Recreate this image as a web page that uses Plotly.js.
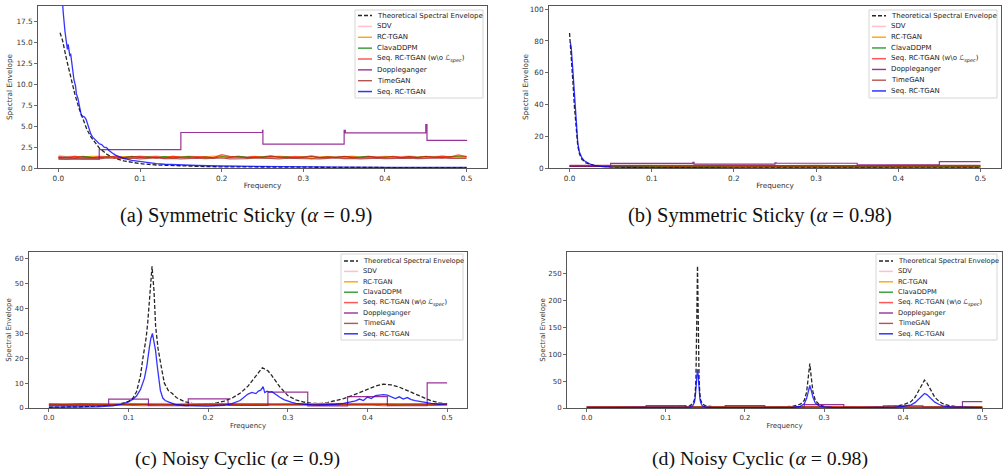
<!DOCTYPE html>
<html>
<head>
<meta charset="utf-8">
<script src="https://cdn.plot.ly/plotly-3.0.1.min.js"></script>
<style>
  html, body { margin: 0; padding: 0; background: #ffffff; }
  #chart { width: 1008px; height: 471px; }
</style>
</head>
<body>
<div id="chart"></div>
<script>
// ---------- series names (legend order) ----------
const seriesNames = [
  'Theoretical Spectral Envelope',
  'SDV',
  'RC-TGAN',
  'ClavaDDPM',
  'Seq. RC-TGAN (w\\o <i>ℒ</i><span style="font-size:5px;baseline-shift:-1.5px"><i>spec</i></span>)',
  'Doppleganger',
  'TimeGAN',
  'Seq. RC-TGAN'
];

// ---------- shared frequency grids and ticks ----------
const freqFine = [0, 0.01, 0.02, 0.03, 0.04, 0.05, 0.06, 0.07, 0.08, 0.09, 0.1, 0.11, 0.12, 0.13, 0.14, 0.15, 0.16, 0.17, 0.18, 0.19, 0.2,
  0.21, 0.22, 0.23, 0.24, 0.25, 0.26, 0.27, 0.28, 0.29, 0.3, 0.31, 0.32, 0.33, 0.34, 0.35, 0.36, 0.37, 0.38, 0.39, 0.4,
  0.41, 0.42, 0.43, 0.44, 0.45, 0.46, 0.47, 0.48, 0.49, 0.5];
const freqCoarse = [0, 0.02, 0.04, 0.06, 0.08, 0.1, 0.12, 0.14, 0.16, 0.18, 0.2, 0.22, 0.24, 0.26, 0.28, 0.3,
  0.32, 0.34, 0.36, 0.38, 0.4, 0.42, 0.44, 0.46, 0.48, 0.5];
const xTicks = [0, 0.1, 0.2, 0.3, 0.4, 0.5];
const yTicksA = [0, 2.5, 5, 7.5, 10, 12.5, 15, 17.5];
const yTicksB = [0, 20, 40, 60, 80, 100];
const yTicksC = [0, 10, 20, 30, 40, 50, 60];
const yTicksD = [0, 50, 100, 150, 200, 250];

// ---------- (a) Symmetric Sticky, alpha = 0.9 ----------
const freqTheoryA = [0.002, 0.005, 0.01, 0.015, 0.02, 0.025, 0.03, 0.035, 0.04, 0.045, 0.05, 0.06, 0.07, 0.08, 0.09,
  0.1, 0.12, 0.14, 0.16, 0.18, 0.2, 0.25, 0.3, 0.35, 0.4, 0.45, 0.5];
const theoryA = [16.2, 15.3, 13.0, 10.9, 8.9, 7.2, 5.8, 4.6, 3.7, 3.0, 2.4, 1.6, 1.15, 0.85, 0.65,
  0.52, 0.36, 0.27, 0.21, 0.17, 0.14, 0.1, 0.08, 0.065, 0.055, 0.05, 0.05];
const freqSeqA = [0.002, 0.004, 0.006, 0.008, 0.01, 0.011, 0.012, 0.014, 0.015, 0.017, 0.019, 0.021, 0.022, 0.024, 0.026,
  0.028, 0.03, 0.032, 0.034, 0.036, 0.038, 0.04, 0.042, 0.045, 0.048, 0.05, 0.053, 0.056, 0.059, 0.062, 0.066, 0.07,
  0.075, 0.08, 0.09, 0.1, 0.11, 0.12, 0.13, 0.15, 0.17, 0.2, 0.25, 0.3, 0.35, 0.4, 0.45, 0.5];
const seqRcTganA = [24, 20.5, 18.5, 16.4, 15.0, 14.2, 14.8, 13.4, 13.7, 12.0, 10.6, 9.8, 8.9, 8.3, 7.2,
  6.3, 6.2, 6.1, 5.8, 5.1, 4.5, 4.0, 3.7, 3.4, 3.1, 2.9, 2.8, 2.5, 2.45, 2.1, 1.8, 1.55,
  1.35, 1.15, 0.9, 0.75, 0.62, 0.52, 0.45, 0.36, 0.3, 0.24, 0.17, 0.12, 0.1, 0.08, 0.07, 0.06];
const freqStepA = [0, 0.05, 0.15, 0.25, 0.2505, 0.35, 0.3515, 0.45, 0.4515, 0.5];
const dopplegangerA = [1.05, 2.2, 4.25, 4.5, 2.85, 4.5, 4.2, 5.2, 3.3, 3.35];
const sdvA = [1.55, 1.35, 1.42, 1.3, 1.38, 1.45, 1.32, 1.4, 1.36, 1.3, 1.42, 1.35, 1.44, 1.3, 1.38, 1.33, 1.41, 1.36, 1.3, 1.45,
  1.38, 1.32, 1.4, 1.35, 1.42, 1.3, 1.37, 1.44, 1.33, 1.39, 1.31, 1.42, 1.36, 1.3, 1.4, 1.35, 1.43, 1.32, 1.38, 1.34,
  1.41, 1.3, 1.37, 1.44, 1.33, 1.39, 1.36, 1.42, 1.31, 1.45, 1.38];
const rcTganA = [1.3, 1.22, 1.35, 1.28, 1.4, 1.25, 1.33, 1.2, 1.38, 1.3, 1.26, 1.35, 1.22, 1.32, 1.4, 1.27, 1.34, 1.24, 1.36, 1.3,
  1.42, 1.28, 1.33, 1.22, 1.37, 1.3, 1.25, 1.38, 1.32, 1.28, 1.35, 1.1, 1.3, 1.36, 1.25, 1.33, 1.4, 1.28, 1.32, 1.24,
  1.37, 1.3, 1.26, 1.35, 1.29, 1.38, 1.25, 1.33, 1.3, 1.4, 1.35];
const clavaA = [1.25, 1.32, 1.2, 1.38, 1.28, 1.22, 1.35, 1.3, 1.24, 1.4, 1.28, 1.33, 1.25, 1.36, 1.22, 1.3, 1.38, 1.26, 1.32, 1.2,
  1.35, 1.28, 1.4, 1.3, 1.24, 1.34, 1.45, 1.27, 1.33, 1.22, 1.3, 1.36, 1.25, 1.32, 1.28, 1.38, 1.24, 1.31, 1.4, 1.26,
  1.3, 1.35, 1.22, 1.33, 1.28, 1.36, 1.3, 1.25, 1.34, 1.29, 1.32];
const seqWoA = [1.35, 1.28, 1.4, 1.3, 1.22, 1.36, 1.3, 1.42, 1.25, 1.33, 1.38, 1.28, 1.35, 1.22, 1.4, 1.3, 1.27, 1.36, 1.32, 1.25,
  1.6, 1.38, 1.3, 1.24, 1.35, 1.28, 1.4, 1.32, 1.26, 1.36, 1.3, 1.45, 1.25, 1.33, 1.28, 1.38, 1.3, 1.22, 1.36, 1.32,
  1.27, 1.4, 1.3, 1.35, 1.25, 1.38, 1.3, 1.42, 1.32, 1.58, 1.36];
const timeGanA = [1.15, 1.1, 1.18, 1.12, 1.16, 1.1, 1.2, 1.14, 1.12, 1.18, 1.1, 1.15, 1.2, 1.12, 1.16, 1.1, 1.14, 1.18, 1.12, 1.15,
  1.2, 1.1, 1.16, 1.13, 1.18, 1.12, 1.15, 1.1, 1.17, 1.14, 1.12, 1.18, 1.1, 1.15, 1.2, 1.12, 1.16, 1.1, 1.14, 1.18,
  1.12, 1.15, 1.1, 1.17, 1.13, 1.16, 1.1, 1.2, 1.14, 1.18, 1.15];

// ---------- (b) Symmetric Sticky, alpha = 0.98 ----------
const freqTheoryB = [0, 0.002, 0.004, 0.006, 0.008, 0.01, 0.012, 0.015, 0.02, 0.025, 0.03, 0.04, 0.05, 0.07, 0.1, 0.15, 0.2, 0.3, 0.4, 0.5];
const theoryB = [85, 72, 55, 38, 24, 14, 9, 5.5, 3.2, 2.2, 1.6, 1.0, 0.7, 0.4, 0.22, 0.11, 0.07, 0.04, 0.03, 0.03];
const freqSeqB = [0.001, 0.002, 0.004, 0.006, 0.008, 0.01, 0.012, 0.015, 0.018, 0.022, 0.026, 0.03, 0.035, 0.04, 0.05, 0.07,
  0.1, 0.15, 0.2, 0.3, 0.4, 0.5];
const seqRcTganB = [79, 76, 62, 44, 28, 16, 10, 6.5, 4.5, 3.2, 2.2, 1.6, 1.2, 0.9, 0.6, 0.4, 0.25, 0.15, 0.1, 0.07, 0.05, 0.05];
const freqStepB = [0, 0.05, 0.15, 0.1515, 0.25, 0.2515, 0.35, 0.45, 0.5];
const dopplegangerB = [1.0, 2.9, 3.5, 2.5, 3.2, 3.0, 2.0, 4.0, 4.0];
const sdvB = [1.0, 1.1, 0.9, 1.05, 1.0, 0.95, 1.1, 1.0, 0.9, 1.05, 1.1, 0.95, 1.0, 1.05, 0.9, 1.0, 1.1, 0.95, 1.0, 1.05, 0.9, 1.0, 1.1, 1.0, 0.95, 1.05];
const rcTganB = [1.2, 1.15, 1.3, 1.2, 1.25, 1.1, 1.2, 1.3, 1.15, 1.2, 1.25, 1.2, 1.1, 1.3, 1.2, 1.15, 1.25, 1.2, 1.3, 1.1, 1.2, 1.25, 1.15, 1.2, 1.3, 1.2];
const clavaB = [1.0, 0.95, 1.05, 1.0, 0.9, 1.1, 1.0, 0.95, 1.05, 1.0, 1.1, 0.9, 1.0, 1.05, 0.95, 1.0, 1.1, 1.0, 0.9, 1.05, 1.0, 0.95, 1.1, 1.0, 1.05, 0.95];
const seqWoB = [1.3, 1.4, 1.25, 1.35, 1.3, 1.45, 1.2, 1.35, 1.3, 1.4, 1.25, 1.3, 1.35, 1.2, 1.4, 1.3, 1.25, 1.35, 1.45, 1.3, 1.2, 1.35, 1.3, 1.4, 1.25, 1.35];
const timeGanB = [1.6, 1.55, 1.65, 1.6, 1.5, 1.6, 1.7, 1.55, 1.6, 1.65, 1.5, 1.6, 1.6, 1.55, 1.7, 1.6, 1.5, 1.65, 1.6, 1.55, 1.6, 1.7, 1.6, 1.5, 1.65, 1.6];

// ---------- (c) Noisy Cyclic, alpha = 0.9 ----------
const freqTheoryC = [0, 0.02, 0.04, 0.06, 0.08, 0.09, 0.1, 0.105, 0.11, 0.115, 0.118, 0.122, 0.124, 0.127, 0.1295,
  0.132, 0.134, 0.137, 0.14, 0.142, 0.145, 0.15, 0.155, 0.16, 0.17, 0.18, 0.19, 0.2, 0.21, 0.22,
  0.23, 0.24, 0.25, 0.26, 0.268, 0.275, 0.28, 0.29, 0.3, 0.31, 0.32, 0.33, 0.34, 0.35, 0.36,
  0.37, 0.38, 0.39, 0.4, 0.41, 0.42, 0.43, 0.44, 0.45, 0.46, 0.47, 0.48, 0.49, 0.5];
const theoryC = [0.3, 0.35, 0.5, 0.75, 1.2, 1.7, 2.7, 3.8, 6.5, 13, 20, 28, 34, 47, 57,
  47, 33, 24, 18, 15, 10, 7, 5.8, 4.2, 2.6, 1.9, 1.6, 1.5, 2.0, 2.8,
  4.0, 5.9, 8.8, 13.0, 16.2, 15.0, 13.0, 8.5, 5.0, 3.3, 2.4, 1.9, 1.8, 2.2, 2.9,
  3.8, 4.9, 6.2, 7.5, 8.8, 9.6, 9.3, 8.4, 7.0, 5.4, 4.0, 2.9, 2.1, 1.6];
const freqSeqC = [0, 0.02, 0.04, 0.06, 0.08, 0.09, 0.1, 0.105, 0.11, 0.115, 0.12, 0.123, 0.126, 0.128, 0.13,
  0.132, 0.134, 0.136, 0.138, 0.14, 0.143, 0.146, 0.15, 0.155, 0.16, 0.17, 0.18, 0.2, 0.22, 0.23,
  0.24, 0.245, 0.25, 0.255, 0.26, 0.263, 0.266, 0.269, 0.271, 0.274, 0.277, 0.28, 0.283, 0.286, 0.29,
  0.295, 0.3, 0.305, 0.31, 0.32, 0.33, 0.34, 0.35, 0.36, 0.37, 0.38, 0.385, 0.39, 0.395, 0.4,
  0.405, 0.41, 0.415, 0.42, 0.425, 0.43, 0.435, 0.44, 0.445, 0.45, 0.455, 0.46, 0.47, 0.48, 0.49, 0.5];
const seqRcTganC = [0.3, 0.3, 0.35, 0.5, 0.9, 1.5, 2.5, 3.4, 4.8, 7.5, 12, 17, 24, 28, 30,
  27, 23, 17, 11, 7, 4, 3, 2.5, 1.8, 1.3, 1.0, 0.9, 0.8, 1.1, 1.8,
  3.0, 4.2, 5.6, 6.3, 5.8, 6.8, 7.2, 8.6, 6.2, 6.8, 6.4, 6.6, 5.8, 5.2, 4.3,
  3.4, 2.7, 2.3, 1.9, 1.5, 1.3, 1.2, 1.3, 1.5, 1.9, 2.5, 2.9, 3.6, 3.0, 4.4,
  3.8, 5.0, 5.3, 5.4, 5.2, 4.4, 3.8, 4.5, 3.6, 4.2, 3.4, 3.0, 2.3, 1.9, 1.5, 1.7];
const freqStepC = [0, 0.075, 0.125, 0.175, 0.225, 0.275, 0.325, 0.375, 0.425, 0.475, 0.5];
const dopplegangerC = [1.0, 3.6, 0.9, 3.7, 1.0, 6.4, 0.8, 4.6, 0.9, 10.1, 10.1];
const sdvC = [1.8, 1.7, 1.9, 1.75, 1.85, 1.7, 1.8, 1.9, 1.75, 1.8, 1.7, 1.85, 1.8, 1.9, 1.75, 1.8, 1.7, 1.85, 1.9, 1.8, 1.75, 1.85, 1.7, 1.8, 1.9, 1.8];
const rcTganC = [1.5, 1.6, 1.4, 1.55, 1.5, 1.45, 1.6, 1.5, 1.4, 1.55, 1.5, 1.6, 1.45, 1.5, 1.55, 1.4, 1.5, 1.6, 1.5, 1.45, 1.55, 1.5, 1.4, 1.6, 1.5, 1.55];
const clavaC = [1.6, 1.4, 1.7, 1.5, 1.4, 1.6, 1.5, 1.45, 1.55, 1.4, 1.6, 1.5, 1.7, 1.45, 1.5, 1.6, 1.4, 1.55, 1.5, 1.45, 1.6, 1.5, 1.55, 1.4, 1.5, 1.6];
const seqWoC = [1.5, 1.45, 1.55, 1.4, 1.5, 1.6, 1.45, 1.5, 1.4, 1.55, 1.5, 1.45, 1.6, 1.5, 1.4, 1.55, 1.5, 1.45, 1.5, 1.6, 1.45, 1.5, 1.55, 1.4, 1.5, 1.45];
const timeGanC = [1.2, 1.1, 1.3, 1.0, 1.2, 1.1, 0.9, 1.2, 1.1, 1.0, 1.2, 1.3, 1.1, 1.0, 1.2, 1.1, 1.3, 1.2, 1.0, 1.1, 1.2, 0.9, 1.1, 1.2, 1.0, 1.1];

// ---------- (d) Noisy Cyclic, alpha = 0.98 ----------
const freqTheoryD = [0, 0.05, 0.1, 0.12, 0.13, 0.134, 0.136, 0.137, 0.138, 0.139, 0.1395, 0.14, 0.1405, 0.141, 0.142,
  0.143, 0.144, 0.146, 0.15, 0.16, 0.2, 0.24, 0.26, 0.27, 0.275, 0.278, 0.28, 0.282, 0.284, 0.286,
  0.289, 0.294, 0.3, 0.31, 0.35, 0.38, 0.39, 0.4, 0.41, 0.415, 0.42, 0.424, 0.427, 0.43, 0.434,
  0.44, 0.445, 0.45, 0.46, 0.47, 0.5];
const theoryD = [1.0, 1.1, 1.6, 2.5, 4, 8, 15, 26, 52, 130, 215, 265, 215, 130, 52,
  26, 15, 8, 4, 2.2, 1.2, 1.6, 3, 7, 14, 30, 55, 83, 55, 30,
  14, 6, 3, 1.8, 1.2, 2, 3.2, 6, 12, 20, 33, 46, 52, 47, 35,
  20, 13, 8, 4, 2.5, 1.3];
const freqSeqD = [0, 0.05, 0.1, 0.12, 0.13, 0.134, 0.136, 0.137, 0.138, 0.139, 0.14, 0.141, 0.142, 0.143, 0.144,
  0.146, 0.15, 0.16, 0.2, 0.24, 0.26, 0.27, 0.275, 0.278, 0.28, 0.282, 0.284, 0.286, 0.289, 0.294,
  0.3, 0.31, 0.35, 0.38, 0.39, 0.4, 0.41, 0.415, 0.42, 0.424, 0.427, 0.43, 0.434, 0.44, 0.445,
  0.45, 0.46, 0.5];
const seqRcTganD = [0.3, 0.3, 0.5, 0.8, 1.5, 4, 10, 18, 35, 60, 72, 60, 35, 18, 10,
  4, 1.5, 0.8, 0.5, 0.6, 1, 3, 8, 18, 30, 42, 32, 20, 9, 4,
  2, 1, 0.6, 0.8, 1.5, 3, 6, 10, 17, 24, 27, 25, 19, 11, 7,
  4, 2, 0.8];
const freqStepD = [0, 0.075, 0.125, 0.175, 0.225, 0.275, 0.325, 0.375, 0.425, 0.475, 0.5];
const dopplegangerD = [1.5, 4.4, 1.0, 4.5, 1.2, 6.2, 1.0, 4.2, 1.2, 11.8, 11.8];
const sdvD = [2.0, 2.2, 1.9, 2.1, 2.0, 1.8, 2.2, 2.0, 1.9, 2.1, 2.2, 2.0, 1.8, 2.1, 2.0, 1.9, 2.2, 2.0, 2.1, 1.9, 2.0, 2.2, 1.8, 2.0, 2.1, 2.0];
const rcTganD = [1.5, 1.6, 1.4, 1.5, 1.7, 1.5, 1.4, 1.6, 1.5, 1.5, 1.4, 1.6, 1.5, 1.7, 1.4, 1.5, 1.6, 1.5, 1.4, 1.5, 1.6, 1.5, 1.7, 1.5, 1.4, 1.6];
const clavaD = [1.4, 1.5, 1.6, 1.4, 1.5, 1.3, 1.6, 1.5, 1.4, 1.5, 1.6, 1.4, 1.5, 1.3, 1.5, 1.6, 1.4, 1.5, 1.5, 1.4, 1.6, 1.3, 1.5, 1.4, 1.6, 1.5];
const seqWoD = [1.8, 1.7, 1.9, 1.8, 1.6, 1.8, 1.9, 1.7, 1.8, 1.9, 1.7, 1.8, 1.6, 1.8, 1.9, 1.8, 1.7, 1.8, 1.9, 1.6, 1.8, 1.7, 1.9, 1.8, 1.7, 1.8];
const timeGanD = [1.5, 1.4, 1.6, 1.5, 1.5, 1.4, 1.6, 1.5, 1.3, 1.5, 1.6, 1.4, 1.5, 1.5, 1.6, 1.4, 1.5, 1.3, 1.5, 1.6, 1.5, 1.4, 1.5, 1.6, 1.5, 1.4];

// ---------- styling ----------
const W = 1008, H = 471;
const FONT = 'DejaVu Sans, sans-serif';
const SERIF = 'Liberation Serif, Times New Roman, serif';
const styles = [
  { color: '#000000', width: 1.3, dash: '4px,2px', opacity: 0.85, shape: 'linear' },
  { color: '#ffc0cb', width: 1.3, dash: 'solid', opacity: 1.0, shape: 'linear' },
  { color: '#ffa500', width: 1.2, dash: 'solid', opacity: 1.0, shape: 'linear' },
  { color: '#008000', width: 1.2, dash: 'solid', opacity: 0.8, shape: 'linear' },
  { color: '#ff0000', width: 1.3, dash: 'solid', opacity: 0.65, shape: 'linear' },
  { color: '#800080', width: 1.2, dash: 'solid', opacity: 0.8, shape: 'hv' },
  { color: '#a52a2a', width: 1.2, dash: 'solid', opacity: 0.8, shape: 'linear' },
  { color: '#0000ff', width: 1.3, dash: 'solid', opacity: 0.8, shape: 'linear' }
];

const px = v => v / W;
const py = v => 1 - v / H;

const panels = [
  {
    xa: 'x', ya: 'y', plot: [38, 6, 487, 168], yRange: [0, 19.4], yTicks: yTicksA, tickSize: 7.3,
    series: [[freqTheoryA, theoryA], [freqFine, sdvA], [freqFine, rcTganA], [freqFine, clavaA], [freqFine, seqWoA],
             [freqStepA, dopplegangerA], [freqFine, timeGanA], [freqSeqA, seqRcTganA]],
    legend: { box: [355, 10, 483, 98], line: [358, 372], text: 376, row0: 15.6, step: 10.85, font: 7 },
    yStandoff: 2, xStandoff: 1,
    caption: { text: '(a) Symmetric Sticky (<i>α</i> = 0.9)', x: 246, y: 215, size: 20.5 }
  },
  {
    xa: 'x2', ya: 'y2', plot: [549, 6, 1001, 168], yRange: [0, 102], yTicks: yTicksB, tickSize: 7.3,
    series: [[freqTheoryB, theoryB], [freqCoarse, sdvB], [freqCoarse, rcTganB], [freqCoarse, clavaB], [freqCoarse, seqWoB],
             [freqStepB, dopplegangerB], [freqCoarse, timeGanB], [freqSeqB, seqRcTganB]],
    legend: { box: [869, 10, 997, 98], line: [872, 886], text: 890, row0: 15.7, step: 10.75, font: 7 },
    yStandoff: 0, xStandoff: 1,
    caption: { text: '(b) Symmetric Sticky (<i>α</i> = 0.98)', x: 760, y: 215, size: 20.5 }
  },
  {
    xa: 'x3', ya: 'y3', plot: [29, 252, 467, 408], yRange: [0, 62.8], yTicks: yTicksC, tickSize: 7,
    series: [[freqTheoryC, theoryC], [freqCoarse, sdvC], [freqCoarse, rcTganC], [freqCoarse, clavaC], [freqCoarse, seqWoC],
             [freqStepC, dopplegangerC], [freqCoarse, timeGanC], [freqSeqC, seqRcTganC]],
    legend: { box: [341, 254, 463, 340], line: [344, 358], text: 361.5, row0: 261, step: 10.4, font: 6.7 },
    yStandoff: 2, xStandoff: 1,
    caption: { text: '(c) Noisy Cyclic (<i>α</i> = 0.9)', x: 237, y: 458, size: 19.8 }
  },
  {
    xa: 'x4', ya: 'y4', plot: [567, 252, 1002, 408], yRange: [0, 291], yTicks: yTicksD, tickSize: 7,
    series: [[freqTheoryD, theoryD], [freqCoarse, sdvD], [freqCoarse, rcTganD], [freqCoarse, clavaD], [freqCoarse, seqWoD],
             [freqStepD, dopplegangerD], [freqCoarse, timeGanD], [freqSeqD, seqRcTganD]],
    legend: { box: [876, 254, 997, 340], line: [879, 893], text: 896.5, row0: 261, step: 10.4, font: 6.7 },
    yStandoff: 1, xStandoff: 1,
    caption: { text: '(d) Noisy Cyclic (<i>α</i> = 0.98)', x: 760, y: 458, size: 19.8 }
  }
];

const traces = [];
const shapes = [];
const annotations = [];
const layout = {
  width: W, height: H,
  margin: { l: 0, r: 0, t: 0, b: 0 },
  paper_bgcolor: '#ffffff', plot_bgcolor: '#ffffff',
  showlegend: false,
  font: { family: FONT, color: '#333333' }
};

function axisBase(tickSize) {
  return {
    showgrid: false, zeroline: false,
    showline: true, mirror: true, linecolor: '#444444', linewidth: 0.9,
    ticks: 'outside', ticklen: 3, tickwidth: 0.8, tickcolor: '#444444',
    tickfont: { family: FONT, size: tickSize, color: '#333333' },
    fixedrange: true, automargin: false
  };
}

panels.forEach((p, k) => {
  const suffix = k === 0 ? '' : String(k + 1);
  const [x0, y0, x1, y1] = p.plot;

  layout['xaxis' + suffix] = Object.assign(axisBase(p.tickSize), {
    domain: [px(x0), px(x1)], anchor: p.ya,
    range: [-0.025, 0.525], tickvals: xTicks, tickformat: '.1f',
    title: { text: 'Frequency', standoff: p.xStandoff, font: { family: FONT, size: p.tickSize, color: '#333333' } }
  });
  layout['yaxis' + suffix] = Object.assign(axisBase(p.tickSize), {
    domain: [py(y1), py(y0)], anchor: p.xa,
    range: p.yRange, tickvals: p.yTicks, tickformat: k === 0 ? '.1f' : 'd',
    title: { text: 'Spectral Envelope', standoff: p.yStandoff, font: { family: FONT, size: p.tickSize, color: '#333333' } }
  });

  p.series.forEach(([xs, ys], i) => {
    const s = styles[i];
    traces.push({
      type: 'scatter', mode: 'lines', x: xs, y: ys,
      xaxis: p.xa, yaxis: p.ya, name: seriesNames[i],
      opacity: s.opacity, hoverinfo: 'skip',
      line: { color: s.color, width: s.width, dash: s.dash, shape: s.shape }
    });
  });

  // legend box with one sample line and label per series
  const L = p.legend;
  shapes.push({
    type: 'rect', xref: 'paper', yref: 'paper', layer: 'above',
    x0: px(L.box[0]), x1: px(L.box[2]), y0: py(L.box[3]), y1: py(L.box[1]),
    fillcolor: 'rgba(255,255,255,0.85)', line: { color: '#d6d6d6', width: 1 }
  });
  seriesNames.forEach((name, i) => {
    const s = styles[i];
    const yy = py(L.row0 + i * L.step);
    shapes.push({
      type: 'line', xref: 'paper', yref: 'paper', layer: 'above',
      x0: px(L.line[0]), x1: px(L.line[1]), y0: yy, y1: yy, opacity: s.opacity,
      line: { color: s.color, width: s.width + 0.2, dash: s.dash }
    });
    annotations.push({
      xref: 'paper', yref: 'paper', x: px(L.text), y: yy, xanchor: 'left', yanchor: 'middle',
      text: name, showarrow: false, borderpad: 0,
      font: { family: FONT, size: L.font, color: '#222222' }
    });
  });

  // sub-figure caption
  annotations.push({
    xref: 'paper', yref: 'paper', x: px(p.caption.x), y: py(p.caption.y),
    xanchor: 'center', yanchor: 'middle', showarrow: false,
    text: p.caption.text, font: { family: SERIF, size: p.caption.size, color: '#111111' }
  });
});

layout.shapes = shapes;
layout.annotations = annotations;

Plotly.newPlot('chart', traces, layout, { staticPlot: true, displayModeBar: false });
</script>
</body>
</html>
